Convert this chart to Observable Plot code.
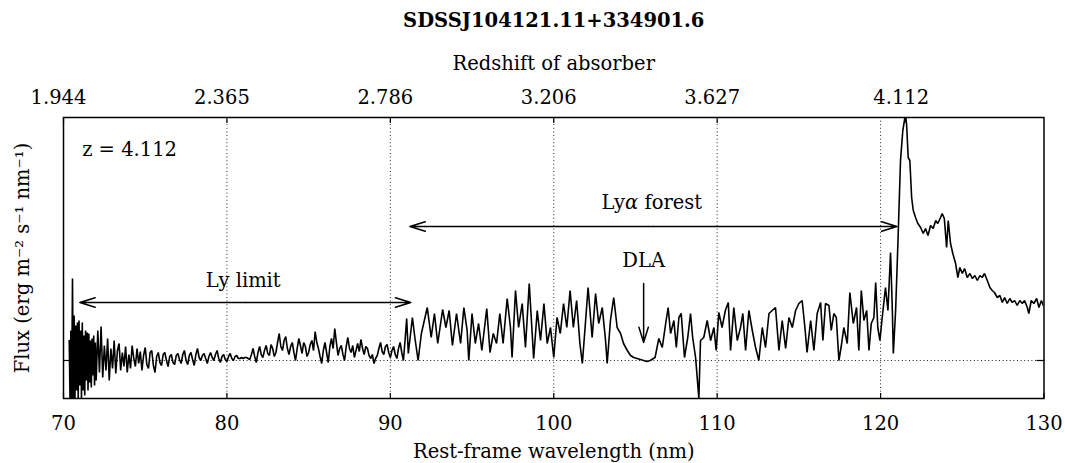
<!DOCTYPE html>
<html><head><meta charset="utf-8">
<script src="https://cdn.jsdelivr.net/npm/d3@7"></script>
<script src="https://cdn.jsdelivr.net/npm/@observablehq/plot@0.6"></script>
<style>body{margin:0;background:#fff}</style>
</head><body><div id="chart"></div>
<script>
// Spectrum readings: [rest-frame wavelength (nm), flux (arbitrary units, 0 = zero flux)]
const lymanLimitRegion = [[70.35,20],[70.40,-38],[70.45,30],[70.50,-38],[70.55,82],[70.60,-38],[70.65,45],[70.70,-38],[70.75,35],[70.80,-30],[70.85,38],[70.90,-38],[70.95,40],[71.00,-25],[71.05,30],[71.10,-38],[71.15,38],[71.20,-30],[71.25,25],[71.30,-35],[71.35,30],[71.40,-20],[71.45,28],[71.50,-30],[71.55,27],[71.60,-22],[71.65,20],[71.70,-27],[71.75,22],[71.80,-15],[71.85,25],[71.90,-25],[71.95,18],[72.00,-20],
[72.1,30],[72.2,-12],[72.3,34],[72.4,-17],[72.5,15],[72.6,-10],[72.7,22],[72.8,-20],[72.9,12],[73.0,-8],[73.1,20],[73.2,-13],[73.3,10],[73.4,17],[73.5,-10],[73.6,8],[73.7,-6],[73.8,14],[73.9,-12],[74.0,6],[74.1,-8],[74.2,15],[74.3,2],[74.4,-6],[74.5,12],[74.6,-3],[74.7,9],[74.8,-10],[74.9,5],[75.0,13],[75.1,-4],[75.2,-8],[75.3,8],[75.4,10],[75.5,-5],[75.6,-12],[75.7,4],[75.8,8],[75.9,-2],[76.0,-5],[76.1,6],[76.2,8],[76.3,0],[76.4,-6],[76.5,4],[76.6,6],[76.7,-2],[76.8,-4],[76.9,5],[77.0,7],[77.1,1],[77.2,-3],[77.3,6],[77.4,10],[77.5,0],[77.6,-4],[77.7,5],[77.8,8],[77.9,1],[78.0,-5],[78.1,6],[78.2,12],[78.3,3],[78.4,0],[78.5,5],[78.6,7],[78.7,2],[78.8,-3],[78.9,4],[79.0,8],[79.1,3],[79.2,0],[79.3,6],[79.4,10],[79.5,2],[79.6,-2],[79.7,4],[79.8,6],[79.9,1],[80.0,-1],[80.1,4],[80.2,7],[80.3,2],[80.4,0],[80.5,4],[80.6,5],[80.7,2],[80.8,2],[80.9,3],[81.0,2],[81.1,3],[81.2,3],[81.3,2],[81.4,1],[81.5,6],
[81.6,12],[81.7,4],[81.8,-2],[81.9,8],[82.0,14],[82.1,6],[82.2,3],[82.3,10],[82.4,15],[82.5,7],[82.6,5],[82.7,16],[82.8,12],[82.9,4],[83.0,8],[83.1,18],[83.2,27],[83.3,14],[83.4,10],[83.5,20],[83.6,24],[83.7,12],[83.8,6],[83.9,14],[84.0,18],[84.1,8],[84.2,0],[84.3,12],[84.4,22],[84.5,15],[84.6,7],[84.7,18],[84.8,14],[84.9,4],[85.0,8],[85.1,16],[85.2,20],[85.3,10],[85.4,29],[85.5,18],[85.6,12],[85.7,4],[85.8,-3],[85.9,10],[86.0,18],[86.1,8],[86.2,-2],[86.3,14],[86.4,22],[86.5,12],[86.6,32],[86.7,18],[86.8,5],[86.9,12],[87.0,15],[87.1,6],[87.2,0],[87.3,14],[87.4,23],[87.5,12],[87.6,8],[87.7,15],[87.8,3],[87.9,10],[88.0,17],[88.1,9],[88.2,21],[88.3,12],[88.4,6],[88.5,14],[88.6,12],[88.7,5],[88.8,2],[88.9,6],[89.0,-3],[89.1,2],[89.2,5],[89.3,12],[89.4,18],[89.5,9],[89.6,6],[89.7,14],[89.8,16],[89.9,8],[90.0,3],[90.1,10],[90.2,14],[90.3,6],[90.4,2],[90.5,12],[90.6,18],[90.7,8],[90.8,0],[90.9,20],[91.0,42]];

const forestRegion = [[91.1,7],[91.35,43],[91.5,23],[91.7,0],[91.9,27],[92.26,53],[92.5,23],[92.7,47],[92.9,17],[93.2,51],[93.4,33],[93.6,50],[93.8,15],[94.05,47],[94.3,17],[94.5,53],[94.7,30],[94.8,0],[95.0,47],[95.2,17],[95.4,37],[95.6,10],[95.9,52],[96.1,8],[96.3,27],[96.5,17],[96.7,47],[96.9,17],[97.15,62],[97.35,33],[97.45,3],[97.66,70],[97.85,33],[98.07,57],[98.27,13],[98.5,77],[98.68,27],[98.77,2],[98.99,50],[99.19,20],[99.4,57],[99.6,17],[99.8,33],[100.0,3],[100.2,43],[100.4,27],[100.6,57],[100.8,33],[101.0,70],[101.2,33],[101.4,60],[101.6,17],[101.75,-3],[101.95,40],[102.1,73],[102.35,23],[102.56,67],[102.75,37],[102.97,53],[103.17,20],[103.27,-3],[103.47,40],[103.67,63],[103.88,33],[104.09,27],[104.27,17],[104.5,10],[104.7,5],[104.9,3],[105.1,2],[105.3,1],[105.5,0],[105.7,-1],[105.9,0],[106.2,3],[106.43,22],[106.64,13],[106.85,37],[107.0,53],[107.15,27],[107.35,40],[107.5,13],[107.66,43],[107.8,47],[108.0,3],[108.2,23],[108.37,47],[108.5,23],[108.68,3],[108.88,-38],[108.98,20],[109.18,23],[109.39,40],[109.6,20],[109.8,33],[109.94,10],[110.1,48],[110.3,33],[110.5,50],[110.68,58],[110.82,10],[111.02,53],[111.23,20],[111.43,33],[111.57,47],[111.74,10],[111.94,50],[112.15,30],[112.35,13],[112.55,0],[112.76,33],[112.96,13],[113.17,47],[113.37,50],[113.57,53],[113.78,10],[113.98,40],[114.19,12],[114.39,43],[114.6,33],[114.8,50],[115.0,57],[115.2,60],[115.37,33],[115.5,8],[115.72,40],[115.92,10],[116.12,47],[116.33,58],[116.47,20],[116.63,57],[116.84,55],[116.98,30],[117.14,47],[117.29,43],[117.45,0]];

const emissionRegion = [[117.6,15],[117.75,33],[117.96,17],[118.12,68],[118.33,37],[118.53,53],[118.67,10],[118.82,70],[118.98,40],[119.15,50],[119.29,10],[119.43,37],[119.59,43],[119.7,78],[119.83,33],[119.96,20],[120.1,43],[120.3,73],[120.45,50],[120.61,108],[120.72,50],[120.78,7],[120.92,50],[121.06,117],[121.22,200],[121.36,230],[121.49,243],[121.59,237],[121.69,203],[121.79,200],[121.9,163],[122.0,150],[122.14,143],[122.28,137],[122.45,133],[122.61,127],[122.75,132],[122.9,125],[123.06,135],[123.22,132],[123.37,140],[123.5,137],[123.67,143],[123.77,147],[123.9,142],[124.04,113],[124.14,140],[124.28,117],[124.42,107],[124.59,97],[124.73,83],[124.85,93],[125.0,87],[125.14,92],[125.3,83],[125.47,87],[125.61,82],[125.77,85],[125.92,80],[126.08,85],[126.22,83],[126.36,87],[126.53,80],[126.69,73],[126.83,70],[126.97,68],[127.14,63],[127.3,65],[127.45,58],[127.59,63],[127.75,57],[127.91,62],[128.06,58],[128.2,60],[128.36,55],[128.52,60],[128.67,57],[128.81,60],[128.98,53],[129.07,47],[129.22,60],[129.38,57],[129.55,62],[129.69,53],[129.84,60],[129.96,55]];

// Axes
const wavelengthTicks = [70, 80, 90, 100, 110, 120, 130];
const gridWavelengths = [80, 90, 100, 110, 120];
const redshiftTickWavelengths = [70, 80, 90, 100, 110, 121.567];
const redshiftTickLabels = ["1.944", "2.365", "2.786", "3.206", "3.627", "4.112"];

// Annotations
const spanArrows = [
  {label: "Ly limit", from: 71.0, to: 91.25, level: 58, labelX: 81.0, labelY: 80},
  {label: "Lyα forest", from: 91.2, to: 121.0, level: 134, labelX: 106.0, labelY: 158}
];
const dlaMarker = [{label: "DLA", x: 105.5, top: 77, bottom: 18, labelY: 100}];
const redshiftNote = [{label: "z = 4.112", x: 71.14, y: 211}];

const spectrum = [...lymanLimitRegion, ...forestRegion, ...emissionRegion].map(([w, f]) => ({w, f}));
const arrowSegments = spanArrows.flatMap(s => {
  const mid = (s.from + s.to) / 2;
  return [{x1: mid, x2: s.from, y: s.level}, {x1: mid, x2: s.to, y: s.level}];
});

const FONT = 19.5;
const dotted = {stroke: "#222", strokeWidth: 1, strokeDasharray: "1,2.6"};

const plot = Plot.plot({
  width: 1065, height: 463,
  marginLeft: 63, marginRight: 21.5, marginTop: 117, marginBottom: 65,
  style: {fontFamily: "'DejaVu Serif', serif", fontSize: FONT + "px", color: "#000", background: "#fff"},
  x: {domain: [70, 130]},
  y: {domain: [-38, 243]},
  marks: [
    Plot.ruleX(gridWavelengths, dotted),
    Plot.ruleY([0], dotted),
    Plot.line(spectrum, {x: "w", y: "f", stroke: "#000", strokeWidth: 1.6, strokeLinejoin: "miter", clip: true}),
    Plot.frame({stroke: "#000", strokeWidth: 1.5}),
    Plot.axisX(wavelengthTicks, {anchor: "bottom", tickSize: -5, tickFormat: () => "", label: null, strokeWidth: 1.2}),
    Plot.axisX(redshiftTickWavelengths, {anchor: "top", tickSize: -5, tickFormat: () => "", label: null, strokeWidth: 1.2}),
    Plot.axisY([0], {anchor: "left", tickSize: -8, tickFormat: () => "", label: null, strokeWidth: 1.2}),
    Plot.axisY([0], {anchor: "right", tickSize: -8, tickFormat: () => "", label: null, strokeWidth: 1.2}),
    Plot.text(wavelengthTicks, {x: d => d, text: d => String(d), frameAnchor: "bottom", dy: 31, fontSize: FONT}),
    Plot.text(redshiftTickWavelengths, {x: d => d, text: (d, i) => redshiftTickLabels[i], frameAnchor: "top", dy: -27, dx: -5, fontSize: FONT}),
    Plot.text(["SDSSJ104121.11+334901.6"], {text: d => d, frameAnchor: "top", dy: -104, fontSize: FONT, fontWeight: "bold"}),
    Plot.text(["Redshift of absorber"], {text: d => d, frameAnchor: "top", dy: -61, fontSize: FONT}),
    Plot.text(["Rest-frame wavelength (nm)"], {text: d => d, frameAnchor: "bottom", dy: 59, fontSize: FONT}),
    Plot.text(["Flux (erg m⁻² s⁻¹ nm⁻¹)"], {text: d => d, frameAnchor: "left", textAnchor: "middle", dx: -41, rotate: -90, fontSize: FONT}),
    Plot.arrow(arrowSegments, {x1: "x1", x2: "x2", y1: "y", y2: "y", stroke: "#000", strokeWidth: 1.5, headLength: 16, headAngle: 34}),
    Plot.text(spanArrows, {x: "labelX", y: "labelY", text: "label", fontSize: FONT}),
    Plot.arrow(dlaMarker, {x1: "x", x2: "x", y1: "top", y2: "bottom", stroke: "#000", strokeWidth: 1.5, headLength: 16, headAngle: 34}),
    Plot.text(dlaMarker, {x: "x", y: "labelY", text: "label", fontSize: FONT}),
    Plot.text(redshiftNote, {x: "x", y: "y", text: "label", textAnchor: "start", fontSize: FONT})
  ]
});

d3.select(plot).selectAll("text").filter(function () { return this.textContent === "Lyα forest"; }).each(function () {
  const t = d3.select(this);
  t.text(null);
  t.append("tspan").text("Ly");
  t.append("tspan").attr("font-style", "italic").text("α");
  t.append("tspan").text(" forest");
});

document.getElementById("chart").appendChild(plot);
</script>
</body></html>
